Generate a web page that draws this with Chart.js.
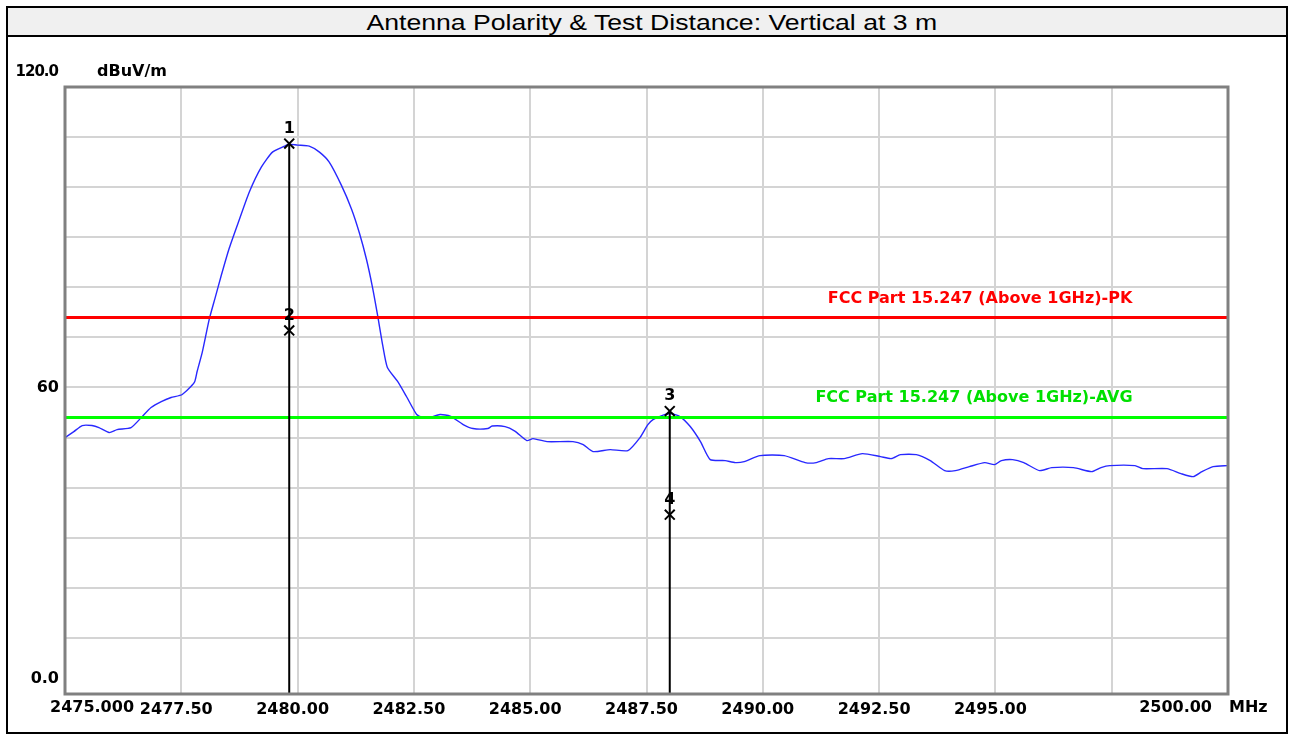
<!DOCTYPE html>
<html>
<head>
<meta charset="utf-8">
<script src="https://cdn.jsdelivr.net/npm/chart.js@4"></script>
<style>
  html, body { margin: 0; padding: 0; background: #fff; }
  #chart { position: absolute; left: 0; top: 0; }
  #frame {
    position: absolute; left: 6px; top: 6px; width: 1278px; height: 724px;
    border: 2px solid #000; pointer-events: none;
  }
  #title {
    height: 27px; background: #f0f0f0; border-bottom: 2px solid #000;
    text-align: center; font: 22px "Liberation Sans", Arial, sans-serif; line-height: 29px;
    color: #000; padding-left: 10px;
  }
  #title span { display: inline-block; transform: scaleX(1.21); }
</style>
</head>
<body>
<canvas id="chart" width="1294" height="740"></canvas>
<div id="frame"><div id="title"><span>Antenna Polarity &amp; Test Distance: Vertical at 3 m</span></div></div>
<script>
// measured trace (MHz / dBuV/m)
const freqMHz = [
  2475.00, 2475.19, 2475.37, 2475.58, 2475.73, 2475.95, 2476.12, 2476.42, 2476.64, 2476.85,
  2477.07, 2477.28, 2477.52, 2477.78, 2477.84, 2477.95, 2478.10, 2478.23, 2478.36, 2478.53,
  2478.75, 2478.96, 2479.22, 2479.46, 2479.72, 2479.80, 2480.00, 2480.25, 2480.47, 2480.68,
  2480.94, 2481.16, 2481.33, 2481.48, 2481.61, 2481.72, 2481.83, 2481.93, 2482.15, 2482.34,
  2482.56, 2482.69, 2482.84, 2483.06, 2483.28, 2483.56, 2483.77, 2484.09, 2484.18, 2484.46,
  2484.67, 2484.93, 2485.06, 2485.36, 2485.92, 2486.14, 2486.35, 2486.72, 2487.10, 2487.36,
  2487.53, 2487.64, 2487.83, 2488.01, 2488.22, 2488.44, 2488.66, 2488.87, 2489.19, 2489.41,
  2489.60, 2489.94, 2490.46, 2490.91, 2491.15, 2491.41, 2491.75, 2492.14, 2492.53, 2492.76,
  2492.96, 2493.30, 2493.60, 2493.91, 2494.14, 2494.44, 2494.77, 2494.98, 2495.13, 2495.37,
  2495.61, 2495.95, 2496.21, 2496.68, 2497.07, 2497.27, 2497.46, 2498.00, 2498.17, 2498.69,
  2498.99, 2499.25, 2499.44, 2499.68, 2500.00
];
const levelDb = [
  50.0, 51.2, 52.4, 52.4, 52.0, 51.0, 51.6, 52.0, 54.0, 56.0,
  57.2, 58.0, 58.6, 61.0, 63.2, 67.0, 73.6, 78.0, 82.4, 87.8,
  93.6, 99.0, 104.0, 107.0, 108.2, 108.6, 108.4, 108.2, 107.0, 105.0,
  100.4, 95.6, 90.8, 85.6, 80.0, 74.4, 68.4, 64.0, 61.2, 58.2,
  54.6, 54.0, 54.0, 54.6, 54.3, 52.6, 51.8, 51.8, 52.3, 52.2,
  51.3, 49.4, 49.8, 49.2, 49.2, 48.6, 47.2, 47.6, 47.4, 50.0,
  52.6, 53.6, 54.4, 54.8, 54.2, 52.2, 49.2, 45.6, 45.4, 45.0,
  45.2, 46.4, 46.4, 45.0, 45.0, 45.8, 45.8, 46.8, 46.2, 45.8,
  46.6, 46.6, 45.4, 43.4, 43.4, 44.2, 45.0, 44.6, 45.4, 45.6,
  45.0, 43.4, 44.0, 44.0, 43.2, 44.0, 44.4, 44.4, 43.8, 43.8,
  42.8, 42.2, 43.2, 44.2, 44.4
];

const limitPk = 74;
const limitAvg = 54;
const limitPkName = 'FCC Part 15.247 (Above 1GHz)-PK';
const limitAvgName = 'FCC Part 15.247 (Above 1GHz)-AVG';

const markerNo = ['1', '2', '3', '4'];
const markerFreq = [2479.82, 2479.82, 2488.00, 2488.00];
const markerLevel = [108.7, 71.4, 55.3, 34.6];

const xTicks = [2475, 2477.5, 2480, 2482.5, 2485, 2487.5, 2490, 2492.5, 2495, 2497.5, 2500];
const yTicks = [0, 10, 20, 30, 40, 50, 60, 70, 80, 90, 100, 110, 120];

const X_MIN = 2475, X_MAX = 2500, Y_MIN = -1.2, Y_MAX = 120;
const boldFont = { family: '"DejaVu Sans", sans-serif', size: 16, weight: 'bold' };
const boldCss = 'bold 16px "DejaVu Sans", sans-serif';

const trace = freqMHz.map((f, i) => ({ x: f, y: levelDb[i] }));

// one vertical line per marker frequency, from highest marker down to the axis
const lineFreqs = [...new Set(markerFreq)];
const markerLines = lineFreqs.map(f => {
  const top = Math.max(...markerLevel.filter((v, i) => markerFreq[i] === f));
  return {
    data: [{ x: f, y: top }, { x: f, y: Y_MIN }],
    showLine: true, borderColor: '#000', borderWidth: 2, pointRadius: 0
  };
});

const extras = {
  id: 'extras',
  afterDatasetsDraw(chart) {
    const { ctx, chartArea: a, scales } = chart;
    const sx = scales.x, sy = scales.y;
    ctx.save();
    // plot frame
    ctx.strokeStyle = '#808080';
    ctx.lineWidth = 3;
    ctx.strokeRect(a.left, a.top, a.right - a.left, a.bottom - a.top);

    ctx.font = boldCss;
    ctx.textBaseline = 'middle';
    // marker numbers
    ctx.fillStyle = '#000';
    ctx.textAlign = 'center';
    markerNo.forEach((n, i) => {
      ctx.fillText(n, sx.getPixelForValue(markerFreq[i]), sy.getPixelForValue(markerLevel[i]) - 15);
    });
    // limit names
    ctx.fillStyle = '#ff0000';
    ctx.fillText(limitPkName, sx.getPixelForValue(2494.67), sy.getPixelForValue(limitPk) - 19);
    ctx.fillStyle = '#00e000';
    ctx.fillText(limitAvgName, sx.getPixelForValue(2494.54), sy.getPixelForValue(limitAvg) - 20);

    // axis end labels and units
    ctx.fillStyle = '#000';
    const xy = a.bottom + 14;
    ctx.textAlign = 'left';
    ctx.fillText('2475.000', a.left - 15, xy);
    ctx.fillText('MHz', a.right + 1, xy);
    ctx.fillText('dBuV/m', a.left + 32, a.top - 15);
    ctx.textAlign = 'right';
    ctx.fillText('2500.00', a.right - 16, xy);
    ctx.font = 'bold 15px "DejaVu Sans", sans-serif';
    ctx.letterSpacing = '-1px';
    ctx.fillText('120.0', a.left - 7, a.top - 15);
    ctx.restore();
  }
};

new Chart(document.getElementById('chart'), {
  type: 'scatter',
  data: {
    datasets: [
      ...markerLines,
      {
        data: markerFreq.map((f, i) => ({ x: f, y: markerLevel[i] })),
        pointStyle: 'crossRot', pointRadius: 7, borderColor: '#000', borderWidth: 2,
        backgroundColor: '#000', showLine: false
      },
      {
        data: [{ x: X_MIN, y: limitPk }, { x: X_MAX, y: limitPk }],
        showLine: true, borderColor: '#ff0000', borderWidth: 3, pointRadius: 0
      },
      {
        data: [{ x: X_MIN, y: limitAvg }, { x: X_MAX, y: limitAvg }],
        showLine: true, borderColor: '#00ff00', borderWidth: 3, pointRadius: 0
      },
      {
        data: trace,
        showLine: true, borderColor: '#2828ff', borderWidth: 1.4, pointRadius: 0, tension: 0.2
      }
    ]
  },
  options: {
    responsive: false,
    animation: false,
    layout: { padding: { left: 0, right: 66, top: 87, bottom: 0 } },
    plugins: { legend: { display: false }, tooltip: { enabled: false }, title: { display: false } },
    scales: {
      x: {
        type: 'linear', min: X_MIN, max: X_MAX,
        afterBuildTicks: s => { s.ticks = xTicks.map(v => ({ value: v })); },
        afterFit: s => { s.height = 46; },
        border: { display: false },
        grid: {
          drawTicks: false, lineWidth: 2,
          color: c => (c.tick && (c.tick.value === X_MIN || c.tick.value === X_MAX)) ? 'rgba(0,0,0,0)' : '#d4d4d4'
        },
        ticks: {
          font: boldFont, color: '#000', padding: 6, labelOffset: -5, maxRotation: 0, autoSkip: false,
          callback: v => (v === X_MIN || v === X_MAX || v === 2497.5) ? '' : v.toFixed(2)
        }
      },
      y: {
        type: 'linear', min: Y_MIN, max: Y_MAX,
        afterBuildTicks: s => { s.ticks = yTicks.map(v => ({ value: v })); },
        afterFit: s => { s.width = 65; },
        border: { display: false },
        grid: {
          drawTicks: false, lineWidth: 2,
          color: c => (c.tick && (c.tick.value === 0 || c.tick.value === Y_MAX)) ? 'rgba(0,0,0,0)' : '#d4d4d4'
        },
        ticks: {
          font: boldFont, color: '#000', padding: 6, autoSkip: false,
          callback: v => v === 60 ? '60' : (v === 0 ? ['0.0', ''] : '')
        }
      }
    }
  },
  plugins: [extras]
});
</script>
</body>
</html>
